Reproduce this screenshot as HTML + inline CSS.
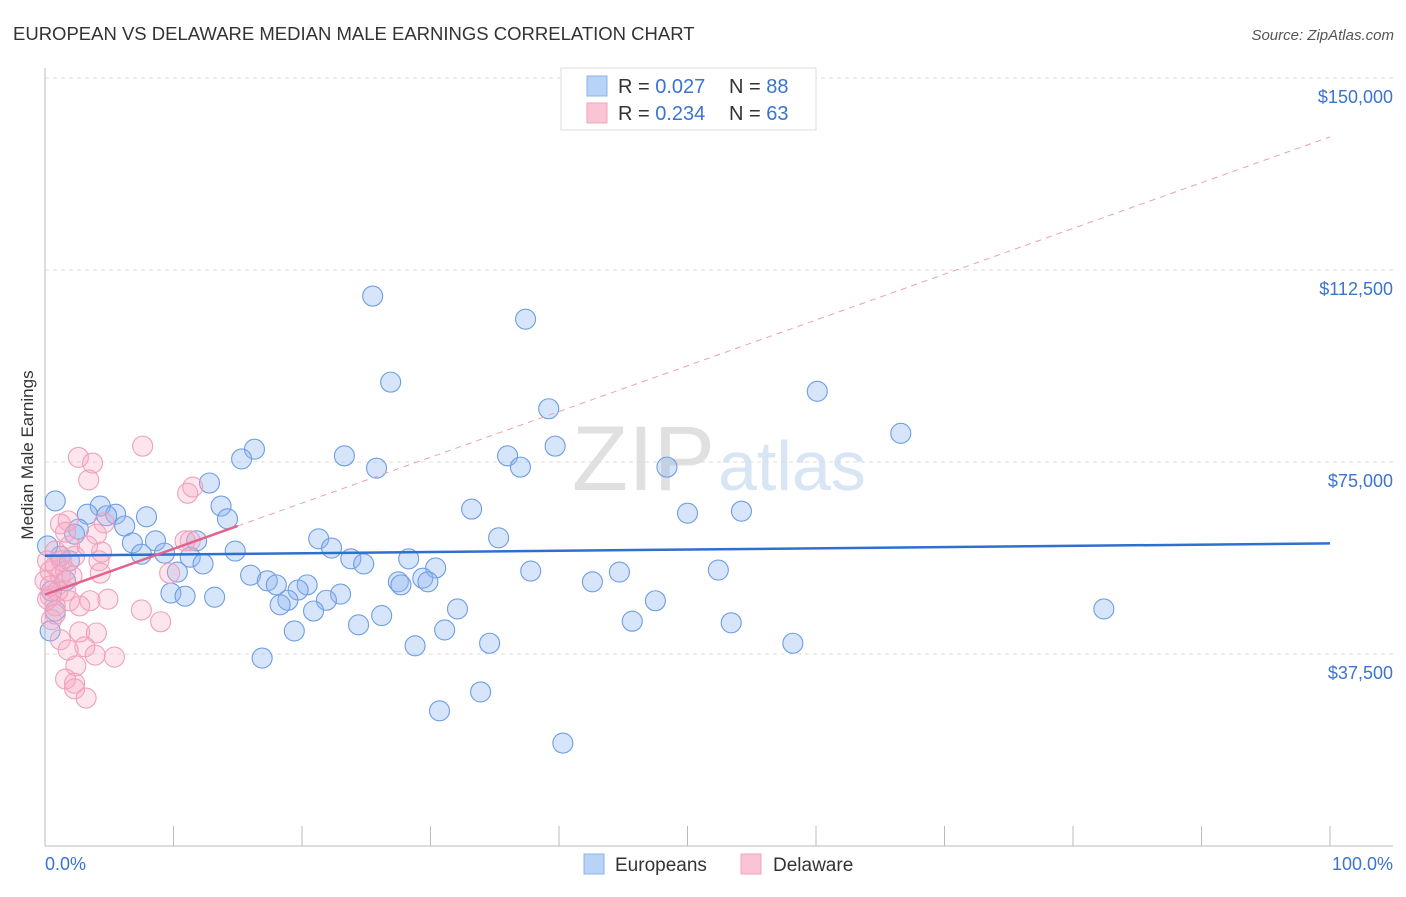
<!DOCTYPE html>
<html><head><meta charset="utf-8"><style>
body{margin:0;background:#fff;font-family:"Liberation Sans",sans-serif;}
svg text{font-family:"Liberation Sans",sans-serif;}
</style></head><body>
<svg id="c" width="1406" height="892">
<text x="13" y="40" font-size="18.5" fill="#333">EUROPEAN VS DELAWARE MEDIAN MALE EARNINGS CORRELATION CHART</text>
<text x="1394" y="40" font-size="15" fill="#555" font-style="italic" text-anchor="end">Source: ZipAtlas.com</text>
<text x="33" y="455" font-size="17" fill="#333" transform="rotate(-90 33 455)" text-anchor="middle">Median Male Earnings</text>
<text x="715" y="490" font-size="92" fill="#e0e0e0" text-anchor="end" font-family="Liberation Serif">ZIP</text>
<text x="718" y="490" font-size="70" fill="#d8e5f5">atlas</text>
<g id="grid"></g><g id="pts"></g><g id="lines"></g>
<g>
<rect x="561" y="68" width="255" height="62" fill="#fff" stroke="#ddd"/>
<rect x="587" y="76" width="20" height="20" fill="#b8d3f5" stroke="#8ab3e8"/>
<rect x="587" y="103" width="20" height="20" fill="#fbc4d4" stroke="#f1a3bb"/>
<text x="618" y="93" font-size="20" fill="#333">R = <tspan fill="#3b73d1">0.027</tspan></text>
<text x="729" y="93" font-size="20" fill="#333">N = <tspan fill="#3b73d1">88</tspan></text>
<text x="618" y="120" font-size="20" fill="#333">R = <tspan fill="#3b73d1">0.234</tspan></text>
<text x="729" y="120" font-size="20" fill="#333">N = <tspan fill="#3b73d1">63</tspan></text>
</g>
<g>
<rect x="584" y="854" width="20" height="20" fill="#b8d3f5" stroke="#8ab3e8"/>
<text x="615" y="871" font-size="19" fill="#333">Europeans</text>
<rect x="741" y="854" width="20" height="20" fill="#fbc4d4" stroke="#f1a3bb"/>
<text x="773" y="871" font-size="19" fill="#333">Delaware</text>
</g>
<text x="45" y="870" font-size="18" fill="#3b73d1">0.0%</text>
<text x="1393" y="870" font-size="18" fill="#3b73d1" text-anchor="end">100.0%</text>
</svg>
<script>
const yTicks=[37500,75000,112500,150000];
const yTickLabels=["$37,500","$75,000","$112,500","$150,000"];
const blueX=[25.5,37.4,26.9,39.2,60.1,66.6,39.7,16.3,15.3,23.3,25.8,36,37.0,48.4,12.8,13.7,14.2,7.9,4.3,5.5,3.3,4.8,6.2,2.6,2.3,33.2,50.0,54.2,21.3,35.3,22.3,6.8,8.6,9.3,11.8,7.5,11.3,14.8,23.8,28.3,12.3,24.8,16.0,30.4,10.3,17.3,18.0,20.4,29.4,27.5,27.7,29.8,37.8,42.6,44.7,52.4,9.8,10.9,13.2,19.7,23.0,18.9,21.9,18.3,20.9,26.2,32.1,47.5,82.4,24.4,45.7,53.4,19.4,31.1,28.8,34.6,58.2,16.9,33.9,30.7,40.3,0.8,1.2,0.5,1.6,0.4,0.2,1.9,0.8];
const blueY=[107400,102900,90600,85400,88800,80600,78100,77500,75600,76200,73800,76200,74000,74000,70900,66400,63900,64300,66400,64800,64800,64500,62500,61900,60900,65800,65000,65400,60000,60200,58200,59200,59600,57200,59600,57000,56400,57600,56100,56100,55100,55100,52900,54300,53500,51800,51000,51000,52300,51600,51000,51600,53700,51600,53500,53900,49400,48800,48600,50000,49200,48000,48000,47100,45900,45000,46300,47900,46300,43200,43900,43600,42000,42200,39100,39600,39600,36700,30100,26400,20100,67400,56600,49800,51800,42000,58600,55700,45900];
const pinkX=[7.6,2.6,3.7,3.4,11.1,11.5,1.8,1.2,4.6,4.0,0.8,1.9,4.2,0.4,1.2,4.3,2.3,1.6,0.4,1.9,0.8,3.5,4.9,2.7,9.7,7.5,9.0,0.5,1.2,2.7,4.0,3.1,1.8,3.9,5.4,2.4,1.6,2.3,2.3,3.2,0.2,0.8,1.3,0,0.4,1.0,1.6,2.1,0.2,0.8,11.3,10.9,4.4,1.6,3.3];
const pinkY=[78100,75900,74800,71500,68900,70100,63500,62900,63100,60900,57600,58600,55700,53700,52700,53300,56600,49800,48800,47900,46900,47900,48200,46900,53300,46100,43800,44200,40300,41800,41600,38900,38300,37300,36900,35200,32600,31800,30700,28900,55700,54700,55700,51800,50800,49800,53700,52700,48200,45300,59600,59600,57400,61300,58600];
const blueLine=[56700,59100];   // y at x=0 and x=100
const pinkLine=[49100,138500]; // y at x=0 and x=100
const pinkSolidEnd=15;
const X=v=>45+v*12.85, Y=v=>846-v*192/37500;
const ns="http://www.w3.org/2000/svg";
function mk(t,a,p){const e=document.createElementNS(ns,t);for(const k in a)e.setAttribute(k,a[k]);p.appendChild(e);return e;}
const g=document.getElementById('grid');
yTicks.forEach((t,i)=>{
 const l=mk('line',{x1:45,x2:1393,y1:Y(t),y2:Y(t),stroke:'#ddd','stroke-dasharray':'4,4'},g);
 
 
 const tx=mk('text',{x:1393,y:Y(t)+25,'font-size':18,fill:'#3b73d1','text-anchor':'end'},g);
 tx.textContent=yTickLabels[i];
 
 
});
mk('line',{x1:45,x2:45,y1:68,y2:846,stroke:'#bbb'},g);
mk('line',{x1:45,x2:1393,y1:846,y2:846,stroke:'#bbb'},g);
for(let i=0;i<=10;i++){const t=mk('line',{x1:X(i*10),x2:X(i*10),y1:826,y2:846,stroke:'#bbb'},g);
 
 }
const p=document.getElementById('pts');
blueX.forEach((x,i)=>{const c=mk('circle',{cx:X(x),cy:Y(blueY[i]),r:10,fill:'rgba(140,180,240,0.35)',stroke:'#6d9de3','stroke-width':1.1},p);
 
 });
pinkX.forEach((x,i)=>{const c=mk('circle',{cx:X(x),cy:Y(pinkY[i]),r:10,fill:'rgba(248,170,195,0.3)',stroke:'#efa0ba','stroke-width':1.1},p);
 
 });
const L=document.getElementById('lines');
const pl=x=>pinkLine[0]+(pinkLine[1]-pinkLine[0])*x/100;
const bl=mk('line',{x1:X(0),y1:Y(blueLine[0]),x2:X(100),y2:Y(blueLine[1]),stroke:'#2f6fd0','stroke-width':2.5},L);


const pd=mk('line',{x1:X(pinkSolidEnd),y1:Y(pl(pinkSolidEnd)),x2:X(100),y2:Y(pl(100)),stroke:'#eba0b8','stroke-width':1,'stroke-dasharray':'6,5'},L);


const ps=mk('line',{x1:X(0),y1:Y(pl(0)),x2:X(pinkSolidEnd),y2:Y(pl(pinkSolidEnd)),stroke:'#e3628c','stroke-width':2.5},L);


</script>
</body></html>
